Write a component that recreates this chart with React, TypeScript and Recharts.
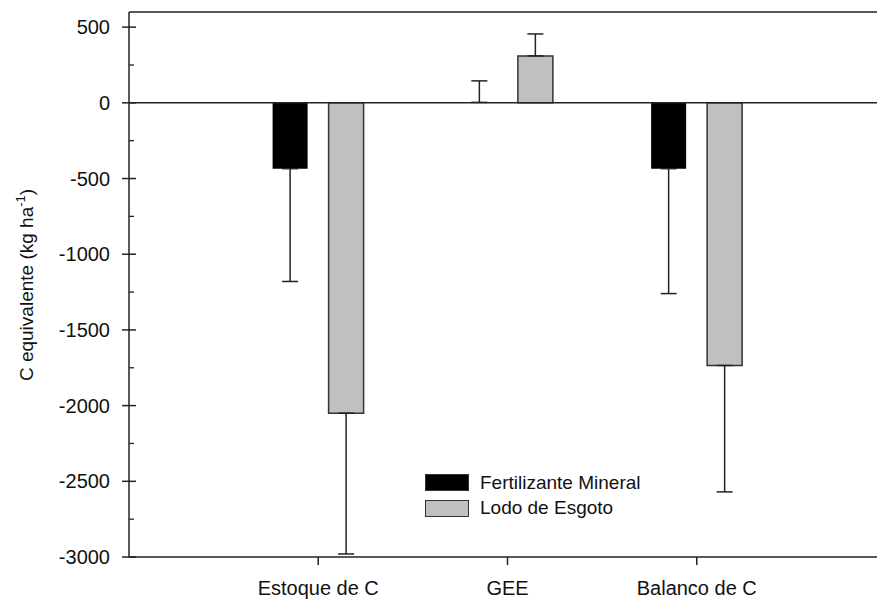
import React from 'react';
import { BarChart, Bar, XAxis, YAxis, ErrorBar, ReferenceLine, Legend } from 'recharts';

const categorias = ['Estoque de C', 'GEE', 'Balanco de C'];
const fertilizanteMineral = [-435, 3, -435];
const fertilizanteErro = [745, 142, 825];
const lodoEsgoto = [-2050, 310, -1735];
const lodoErro = [930, 145, 835];
const yTicks = [-3000, -2750, -2500, -2250, -2000, -1750, -1500, -1250, -1000, -750, -500, -250, 0, 250, 500];

const FONT = '"Liberation Sans", Arial, Helvetica, sans-serif';
const INK = '#222';

const series = [
  { key: 'fm', name: 'Fertilizante Mineral', fill: '#000000', stroke: 'none' },
  { key: 'le', name: 'Lodo de Esgoto', fill: '#c0c0c0', stroke: '#333333' },
];

// erro só para o lado oposto ao zero
const erroUnilateral = (v: number, e: number) => (v < 0 ? [e, 0] : [0, e]);

const data = categorias.map((categoria, i) => ({
  categoria,
  fm: fertilizanteMineral[i],
  fmErr: erroUnilateral(fertilizanteMineral[i], fertilizanteErro[i]),
  le: lodoEsgoto[i],
  leErr: erroUnilateral(lodoEsgoto[i], lodoErro[i]),
}));

const YTick = ({ x, y, payload }: any) => {
  const major = payload.value % 500 === 0;
  if (!major) {
    return <line x1={x} x2={x + 5} y1={y} y2={y} stroke={INK} strokeWidth={1.3} />;
  }
  return (
    <g>
      <line x1={x - 7} x2={x + 7} y1={y} y2={y} stroke={INK} strokeWidth={1.5} />
      <text x={x - 19} y={y} dy="0.355em" textAnchor="end" fontSize={20} fontFamily={FONT} fill="#111">
        {payload.value}
      </text>
    </g>
  );
};

// tick do eixo x: x, y chegam na posição do texto (eixo + 8 + 16)
const XTick = ({ x, y, payload }: any) => {
  if (!categorias.includes(payload.value)) return null;
  return (
    <g>
      <line x1={x} x2={x} y1={y - 24} y2={y - 16} stroke={INK} strokeWidth={1.5} />
      <text x={x} y={y} dy="0.71em" textAnchor="middle" fontSize={20} fontFamily={FONT} fill="#111">
        {payload.value}
      </text>
    </g>
  );
};

const YLabel = () => (
  <text
    x={0}
    y={0}
    transform="translate(33, 285) rotate(-90)"
    textAnchor="middle"
    fontSize={19}
    fontFamily={FONT}
    fill="#111"
  >
    C equivalente (kg ha
    <tspan dy={-8} fontSize={13}>-1</tspan>
    <tspan dy={8}>)</tspan>
  </text>
);

const LegendBox = () => (
  <div style={{ fontFamily: FONT, fontSize: 19, color: '#111' }}>
    {series.map((s) => (
      <div key={s.key} style={{ display: 'flex', alignItems: 'center', height: 25.5 }}>
        <span
          style={{
            display: 'inline-block',
            width: 44,
            height: 17,
            boxSizing: 'border-box',
            background: s.fill,
            border: '1.5px solid #333',
            marginRight: 11,
          }}
        />
        <span>{s.name}</span>
      </div>
    ))}
  </div>
);

export default function App() {
  return (
    <div style={{ position: 'fixed', left: 0, top: 0, width: 877, height: 601, overflow: 'hidden', background: '#fff' }}>
      <BarChart
        width={900}
        height={601}
        data={data}
        margin={{ top: 12, right: 14, bottom: 14, left: 0 }}
        barGap={21}
      >
        <XAxis
          dataKey="categoria"
          height={30}
          padding={{ left: 94.6, right: 94.6 }}
          tickSize={8}
          tickMargin={16}
          axisLine={{ stroke: INK, strokeWidth: 1.5 }}
          tickLine={false}
          tick={<XTick />}
          interval={0}
        />
        <YAxis
          width={129}
          domain={[-3000, 600]}
          allowDataOverflow
          ticks={yTicks}
          interval={0}
          tickSize={0}
          tickMargin={0}
          tickLine={false}
          tick={<YTick />}
          axisLine={{ stroke: INK, strokeWidth: 1.5 }}
          label={<YLabel />}
        />
        <ReferenceLine y={600} stroke={INK} strokeWidth={1.5} />
        <ReferenceLine y={0} stroke={INK} strokeWidth={1.5} />
        <Legend
          content={<LegendBox />}
          verticalAlign="middle"
          align="center"
          wrapperStyle={{ left: 425, top: 470, width: 'auto' }}
        />
        {series.map((s) => (
          <Bar
            key={s.key}
            dataKey={s.key}
            name={s.name}
            fill={s.fill}
            stroke={s.stroke}
            strokeWidth={1.5}
            barSize={35}
            isAnimationActive={false}
          >
            <ErrorBar dataKey={`${s.key}Err`} width={8} stroke={INK} strokeWidth={1.5} />
          </Bar>
        ))}
      </BarChart>
    </div>
  );
}
